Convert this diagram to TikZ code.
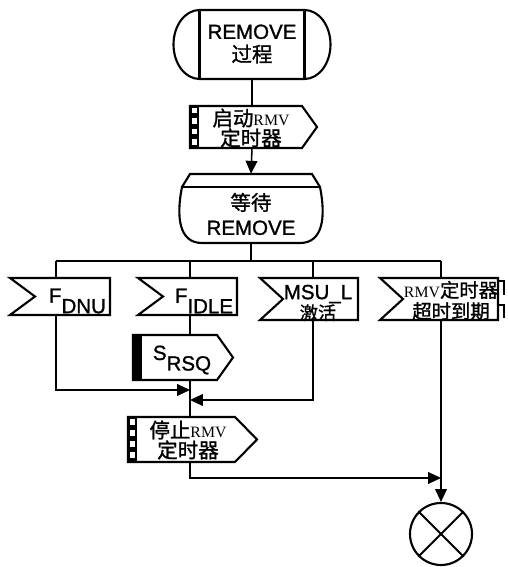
\documentclass[tikz,border=0pt]{standalone}
\usepackage{fontspec}
\setmainfont{Liberation Sans}[FakeBold=1.2]
\newfontfamily\zh{Noto Sans CJK SC}[FakeBold=1.2]
\newfontfamily\rmvfont{Liberation Serif}
\usetikzlibrary{arrows.meta}
\newcommand\latn{\fontsize{17.5}{20}\selectfont}
\newcommand\RMV{{\rmvfont\fontsize{13.5}{14}\selectfont RMV}}
\newcommand\sub[1]{\raisebox{-9pt}{#1}}

\begin{document}
\begin{tikzpicture}[x=0.03cm, y=0.03cm,
  outline/.style={line width=1.8pt, line join=miter},
  flow/.style={line width=1.3pt},
  flowarrow/.style={flow, -{Triangle[length=11pt,width=10pt]}},
  body/.style 2 args={inner sep=0pt, minimum width={#1*0.03cm}, minimum height={#2*0.03cm}},
  txt/.style={inner sep=0pt, align=center, font=\latn}
]
  \useasboundingbox (0,0) rectangle (507,567);

  % REMOVE procedure start
  \node[body={105}{69}] (proc) at (252,522.5) {};
  \draw[outline] (199.5,557) -- (304.5,557) arc[start angle=90, end angle=-90, x radius=26, y radius=34.5]
    -- (199.5,488) arc[start angle=270, end angle=90, x radius=26, y radius=34.5] -- cycle;
  \draw[outline] (199.5,557) -- (199.5,488) (304.5,557) -- (304.5,488);
  \node[txt, font=\fontsize{17.5}{19.6}\selectfont] (proc-t) at (252,523) {REMOVE\\{\zh 过程}};

  % start RMV timer
  \node[body={100}{42}] (rmvon) at (252,440) {};
  \fill (190,461) rectangle (199,419);
  \foreach \k in {0,...,3}
    \fill[white] (192,{459-10.5*\k}) rectangle (197,{453.5-10.5*\k});
  \draw[outline] (190,461) -- (302,461) -- (317,440) -- (302,419) -- (190,419) -- cycle;
  \node[txt, font=\fontsize{17.5}{17}\selectfont] (rmvon-t) at (251,439) {{\zh 启动}\RMV\\{\zh 定时器}};

  % wait state
  \node[body={122}{69}] (wait) at (251,358.5) {};
  \draw[outline] (190,393) -- (312,393) -- (320,380) .. controls (326,350) and (323,324) .. (300,324)
    -- (202,324) .. controls (179,324) and (176,350) .. (182,380) -- cycle;
  \draw[outline] (182,380) -- (320,380);
  \node[txt, font=\fontsize{17.5}{21}\selectfont] (wait-t) at (251,353) {{\zh 等待}\\REMOVE};

  % inputs
  \node[body={100}{37}] (fdnu) at (60,270.5) {};
  \draw[outline] (10,289) -- (110,289) -- (110,252) -- (10,252) -- (35,270.5) -- cycle;
  \node[txt] (fdnu-t) at (77.5,266) {F\sub{DNU}};

  \node[body={99}{37}] (fidle) at (187.5,270.5) {};
  \draw[outline] (138,289) -- (237,289) -- (237,252) -- (138,252) -- (163,270.5) -- cycle;
  \node[txt] (fidle-t) at (204,266) {F\sub{IDLE}};

  \node[body={98}{42}] (msul) at (309,268) {};
  \draw[outline] (260,289) -- (358,289) -- (358,247) -- (260,247) -- (283,268) -- cycle;
  \node[txt, font=\fontsize{17.5}{16}\selectfont] (msul-t) at (318,264) {MSU\_L\\{\zh\fontsize{15.5}{16}\selectfont 激活}};

  \node[body={118}{42}] (rmvexp) at (439,268) {};
  \draw[outline] (380,289) -- (498,289) -- (498,247) -- (380,247) -- (403,268) -- cycle;
  \draw[outline] (498,286) -- (504,286) -- (504,272) (498,262) -- (504,262) -- (504,249);
  \node[txt, font=\fontsize{16.5}{18}\selectfont] (rmvexp-t) at (451,266.5) {\RMV{\zh 定时器}\\{\zh 超时到期}};

  % bus to the inputs
  \coordinate (jwait) at (251,306);
  \coordinate (jdnu)  at (56,306);
  \coordinate (jidle) at (190,306);
  \coordinate (jmsu)  at (313,306);
  \coordinate (jexp)  at (441,306);
  \draw[flow] (wait.south) -- (jwait);
  \draw[flow] (jdnu) -- (jexp);
  \foreach \j/\n in {jdnu/fdnu, jidle/fidle, jmsu/msul, jexp/rmvexp}
    \draw[flow] (\j) -- (\j |- \n.north);

  % send SRSQ
  \node[body={75}{45}] (srsq) at (180,209.5) {};
  \fill (133,232) rectangle (142,187);
  \draw[outline] (133,232) -- (217,232) -- (233,209.5) -- (217,187) -- (133,187) -- cycle;
  \node[txt] (srsq-t) at (182,207) {S\sub{RSQ}};

  % stop RMV timer
  \node[body={100}{45}] (rmvoff) at (190,127.5) {};
  \fill (128,150) rectangle (137,105);
  \foreach \k in {0,...,3}
    \fill[white] (130,{148-11*\k}) rectangle (135,{142-11*\k});
  \draw[outline] (128,150) -- (235,150) -- (257,127.5) -- (235,105) -- (128,105) -- cycle;
  \node[txt, font=\fontsize{17.5}{17}\selectfont] (rmvoff-t) at (188,127) {{\zh 停止}\RMV\\{\zh 定时器}};

  % stop
  \node[draw, circle, outline, minimum size={62*0.03cm}, inner sep=0pt] (stop) at (441,33) {};
  \draw[outline] (stop.north east) -- (stop.south west) (stop.north west) -- (stop.south east);

  % connectors
  \coordinate (mdnu) at (190,177);
  \coordinate (mmsu) at (190,167);
  \coordinate (mstop) at (441,89);
  \draw[flow] (proc.south) -- (rmvon.north);
  \draw[flowarrow] (rmvon.south) -- (wait.north);
  \draw[flow] (jidle |- fidle.south) -- (jidle |- srsq.north);
  \draw[flowarrow] (jdnu |- fdnu.south) |- (mdnu);
  \draw[flowarrow] (jmsu |- msul.south) |- (mmsu);
  \draw[flow] (jidle |- srsq.south) -- (rmvoff.north);
  \draw[flowarrow] (rmvoff.south) |- (mstop);
  \draw[flowarrow] (jexp |- rmvexp.south) -- (stop.north);
\end{tikzpicture}
\end{document}
